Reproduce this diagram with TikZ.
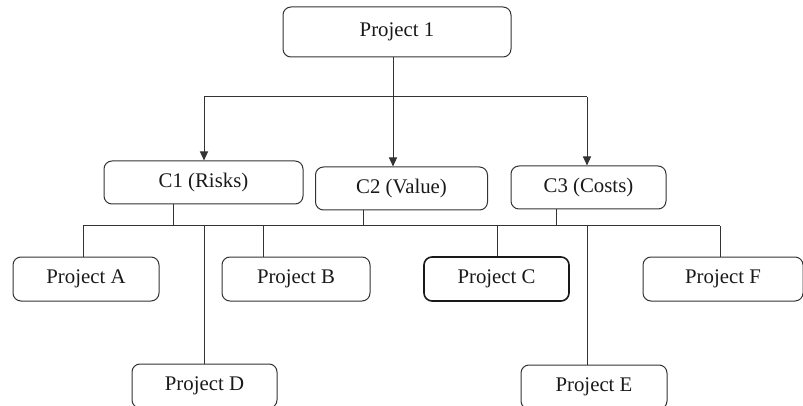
\documentclass[tikz,border=0pt]{standalone}
\usepackage{fontspec}
\setmainfont{Liberation Serif}
\usetikzlibrary{arrows.meta}
\begin{document}
\begin{tikzpicture}[x=1pt,y=-1pt,
  box/.style={draw=black!80, line width=1pt, rounded corners=8pt, inner sep=0pt,
    font=\fontsize{20.8}{25}\selectfont, text=black!90},
  boldbox/.style={box, line width=1.6pt, draw=black!90},
  link/.style={draw=black!80, line width=1pt},
  arr/.style={link, -{Triangle[length=9pt,width=8pt]}}]
\useasboundingbox (0,0) rectangle (803,406);
\clip (0,0) rectangle (803,406);
\node[box, minimum width=228pt, minimum height=50pt] (P1) at (397,32) {Project 1};
\node[box, minimum width=199pt, minimum height=43pt] (C1) at (203.5,182.5) {C1 (Risks)};
\node[box, minimum width=172pt, minimum height=43pt] (C2) at (401.5,188.5) {C2 (Value)};
\node[box, minimum width=155pt, minimum height=43pt] (C3) at (588.5,187.5) {C3 (Costs)};
\node[box, minimum width=146pt, minimum height=44pt] (A) at (86,279) {Project A};
\node[box, minimum width=148pt, minimum height=44pt] (B) at (296,279) {Project B};
\node[boldbox, minimum width=145pt, minimum height=44pt] (C) at (496.5,279) {Project C};
\node[box, minimum width=160pt, minimum height=44pt] (F) at (723,279) {Project F};
\node[box, minimum width=145pt, minimum height=44pt] (D) at (204.5,386) {Project D};
\node[box, minimum width=146pt, minimum height=44pt] (E) at (594,387) {Project E};
% top level
\coordinate (s1) at (393,0);
\coordinate (b1) at (204,97);
\coordinate (b3) at (587,97);
\draw[arr] (P1.south -| s1) -- (C2.north -| s1);
\draw[link] (b1) -- (b3);
\draw[arr] (b1) -- (b1 |- C1.north);
\draw[arr] (b3) -- (b3 |- C3.north);
% bottom bus
\coordinate (busL) at (83,226);
\coordinate (busR) at (720,226);
\draw[link] (busL) -- (busR);
\coordinate (k1) at (173,226);
\coordinate (k2) at (363,226);
\coordinate (k3) at (556,226);
\draw[link] (C1.south -| k1) -- (k1);
\draw[link] (C2.south -| k2) -- (k2);
\draw[link] (C3.south -| k3) -- (k3);
\coordinate (dA) at (83,226);
\coordinate (dB) at (263,226);
\coordinate (dC) at (497,226);
\coordinate (dF) at (720,226);
\coordinate (dD) at (204,226);
\coordinate (dE) at (587,226);
\draw[link] (dA) -- (dA |- A.north);
\draw[link] (dB) -- (dB |- B.north);
\draw[link] (dC) -- (dC |- C.north);
\draw[link] (dF) -- (dF |- F.north);
\draw[link] (dD) -- (dD |- D.north);
\draw[link] (dE) -- (dE |- E.north);
\end{tikzpicture}
\end{document}
